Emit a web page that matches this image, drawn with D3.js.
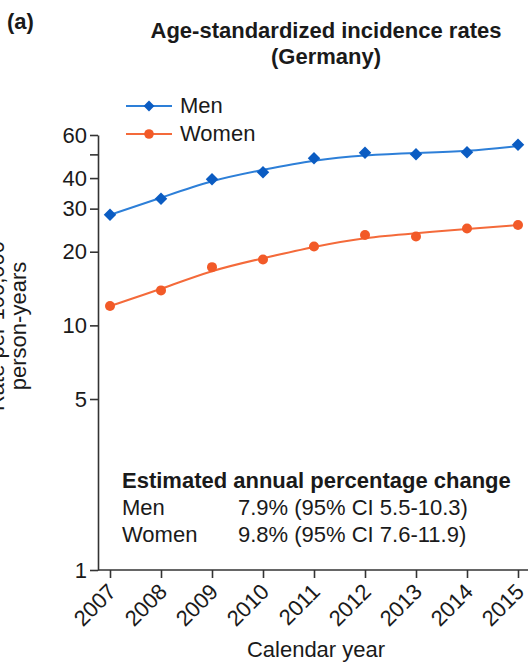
<!DOCTYPE html>
<html>
<head>
<meta charset="utf-8">
<script src="https://cdn.jsdelivr.net/npm/d3@7"></script>
<style>
  html, body { margin: 0; padding: 0; background: #fff; }
  svg { display: block; font-family: "Liberation Sans", Arial, Helvetica, sans-serif; }
</style>
</head>
<body>
<svg id="chart" width="529" height="667"></svg>
<script>
// Calendar years on the x axis
const years = [2007, 2008, 2009, 2010, 2011, 2012, 2013, 2014, 2015];

// Observed age-standardized incidence rates per 100,000 person-years
const menRates   = [28.3, 32.9, 39.6, 42.3, 48.2, 50.8, 50.1, 51.0, 54.7];
const womenRates = [12.0, 13.9, 17.3, 18.6, 21.0, 23.4, 23.1, 24.9, 25.7];

// Fitted trend through each series
const menTrend   = [28.3, 33.2, 39.3, 43.2, 47.5, 49.7, 50.7, 51.4, 54.1];
const womenTrend = [12.0, 14.05, 16.85, 18.8, 21.0, 22.9, 23.8, 24.8, 25.7];

// Log-scale y ticks (50 is drawn without a label)
const yTicks = [1, 5, 10, 20, 30, 40, 50, 60];
const yTickLabels = ["1", "5", "10", "20", "30", "40", "", "60"];

// Trend summary
const apcRows = [
  { group: "Men",   value: "7.9% (95% CI 5.5-10.3)" },
  { group: "Women", value: "9.8% (95% CI 7.6-11.9)" }
];

const svg = d3.select("#chart");
const FS = 22;
const ink = "#1a1a1a";
const menMarker = "#0b5cc2", menLine = "#2d7fd8";
const womenMarker = "#f25a28", womenLine = "#f46a3a";

const x = d3.scaleLinear().domain([2007, 2015]).range([110, 518]);
const y = d3.scaleLog().domain([1, 60]).range([570, 135]);

// Panel letter and title
svg.append("text").attr("x", 7).attr("y", 29)
  .attr("font-size", FS).attr("font-weight", "bold").attr("fill", ink).text("(a)");
svg.append("text").attr("x", 326).attr("y", 38).attr("text-anchor", "middle")
  .attr("font-size", FS).attr("font-weight", "bold").attr("fill", ink)
  .text("Age-standardized incidence rates");
svg.append("text").attr("x", 326).attr("y", 64).attr("text-anchor", "middle")
  .attr("font-size", FS).attr("font-weight", "bold").attr("fill", ink)
  .text("(Germany)");

// Y axis
const yAxis = d3.axisLeft(y)
  .tickValues(yTicks)
  .tickFormat((d, i) => yTickLabels[i])
  .tickSize(8)
  .tickPadding(3)
  .tickSizeOuter(0);
const gy = svg.append("g").attr("transform", "translate(98,0)").call(yAxis);
gy.selectAll("text").attr("font-size", FS).attr("fill", ink).attr("font-family", null);
gy.selectAll("line, path").attr("stroke", "#333").attr("stroke-width", 1.6);

// X axis
const xAxis = d3.axisBottom(x)
  .tickValues(years)
  .tickFormat(d3.format("d"))
  .tickSize(8)
  .tickSizeOuter(0);
const gx = svg.append("g").attr("transform", "translate(0,570)").call(xAxis);
gx.select(".domain").attr("d", "M98,0H528");
gx.selectAll("line, path").attr("stroke", "#333").attr("stroke-width", 1.6);
gx.selectAll("text")
  .attr("font-size", FS).attr("fill", ink).attr("font-family", null)
  .attr("text-anchor", "end")
  .attr("dy", 0)
  .attr("transform", "translate(7,23) rotate(-45)")
  .attr("y", 0).attr("x", 0);

// Axis titles
svg.append("text")
  .attr("transform", "translate(4,326) rotate(-90)")
  .attr("text-anchor", "middle").attr("font-size", FS).attr("fill", ink)
  .text("Rate per 100,000");
svg.append("text")
  .attr("transform", "translate(26,326) rotate(-90)")
  .attr("text-anchor", "middle").attr("font-size", FS).attr("fill", ink)
  .text("person-years");
svg.append("text").attr("x", 316).attr("y", 657).attr("text-anchor", "middle")
  .attr("font-size", FS).attr("fill", ink).text("Calendar year");

// Smooth trend lines
const line = d3.line().x((d, i) => x(years[i])).y(d => y(d)).curve(d3.curveBasis);
svg.append("path").attr("d", line(menTrend)).attr("fill", "none")
  .attr("stroke", menLine).attr("stroke-width", 2);
svg.append("path").attr("d", line(womenTrend)).attr("fill", "none")
  .attr("stroke", womenLine).attr("stroke-width", 2);

// Markers
const diamond = d3.symbol().type(d3.symbolDiamond2).size(100);
svg.append("g").selectAll("path").data(menRates).join("path")
  .attr("d", diamond)
  .attr("transform", (d, i) => `translate(${x(years[i])},${y(d)})`)
  .attr("fill", menMarker);
svg.append("g").selectAll("circle").data(womenRates).join("circle")
  .attr("cx", (d, i) => x(years[i])).attr("cy", d => y(d)).attr("r", 5)
  .attr("fill", womenMarker);

// Legend
const legend = svg.append("g");
legend.append("line").attr("x1", 126).attr("x2", 172).attr("y1", 106).attr("y2", 106)
  .attr("stroke", menLine).attr("stroke-width", 2);
legend.append("path").attr("d", d3.symbol().type(d3.symbolDiamond2).size(75))
  .attr("transform", "translate(149,106)").attr("fill", menMarker);
legend.append("text").attr("x", 180).attr("y", 113).attr("font-size", FS).attr("fill", ink).text("Men");
legend.append("line").attr("x1", 126).attr("x2", 172).attr("y1", 134).attr("y2", 134)
  .attr("stroke", womenLine).attr("stroke-width", 2);
legend.append("circle").attr("cx", 149).attr("cy", 134).attr("r", 4.8).attr("fill", womenMarker);
legend.append("text").attr("x", 180).attr("y", 141).attr("font-size", FS).attr("fill", ink).text("Women");

// Annual percentage change summary
svg.append("text").attr("x", 122).attr("y", 488).attr("font-size", FS)
  .attr("font-weight", "bold").attr("fill", ink).text("Estimated annual percentage change");
apcRows.forEach((r, i) => {
  const by = 515 + i * 26.5;
  svg.append("text").attr("x", 122).attr("y", by).attr("font-size", FS).attr("fill", ink).text(r.group);
  svg.append("text").attr("x", 238).attr("y", by).attr("font-size", FS).attr("fill", ink).text(r.value);
});
</script>
</body>
</html>
